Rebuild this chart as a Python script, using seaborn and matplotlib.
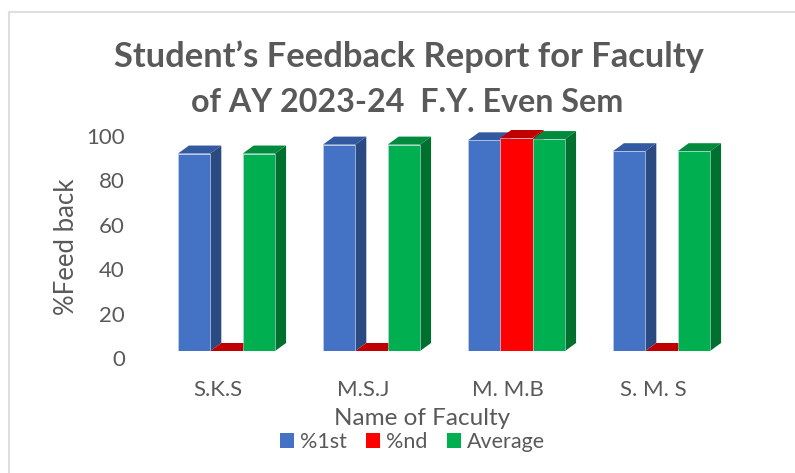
import matplotlib
matplotlib.use('Agg')
import matplotlib.pyplot as plt
from matplotlib.patches import Polygon, Rectangle
from matplotlib.lines import Line2D
import pandas as pd
import seaborn as sns

faculty = ['S.K.S', 'M.S.J', 'M. M.B', 'S. M. S']
first = [92.7, 96.9, 98.9, 93.8]
second = [0, 0, 100, 0]
average = [92.7, 96.9, 99.5, 93.8]

series_names = ['%1st', '%nd', 'Average']
front_colors = ['#4472C4', '#FF0000', '#00B050']
top_colors = ['#335AA0', '#C00000', '#008A3E']
side_colors = ['#2B4A82', '#A00000', '#00702F']
text_color = '#595959'

W, H = 795, 473

sns.set_theme(style='white')
plt.rcParams['font.family'] = ['Lato', 'DejaVu Sans']

df = pd.DataFrame({
    'Faculty': faculty * 3,
    'Series': [s for s in series_names for _ in faculty],
    'Value': first + second + average,
})

fig = plt.figure(figsize=(W / 100, H / 100), dpi=100)

def px_axes(left, right, top, bottom):
    return fig.add_axes([left / W, 1 - bottom / H, (right - left) / W, (bottom - top) / H])

ax = px_axes(154, 734, 138, 351)
sns.barplot(data=df, x='Faculty', y='Value', hue='Series', hue_order=series_names,
            palette=front_colors, width=0.67, saturation=1, legend=False, ax=ax, zorder=3)
ax.set_xlim(-0.5, 3.5)
ax.set_ylim(0, 100)
ax.set_xticks([])
ax.set_yticks([])
ax.set_xlabel('')
ax.set_ylabel('')
ax.patch.set_alpha(0)
sns.despine(ax=ax, left=True, bottom=True, top=True, right=True)

# fake 3d extrusion, same depth for every bar
dx = 11 / 145
dy = 8 / 2.13
for i, name in enumerate(series_names):
    for bar in ax.containers[i]:
        x0, w, h = bar.get_x(), bar.get_width(), bar.get_height()
        x1 = x0 + w
        z = 3 + i
        bar.set_zorder(z + 0.5)
        bar.set_edgecolor('#C9D6EC')
        bar.set_linewidth(0.4)
        ax.add_patch(Polygon([(x0, h), (x1, h), (x1 + dx, h + dy), (x0 + dx, h + dy)],
                             closed=True, fc=top_colors[i], ec='none', zorder=z, clip_on=False))
        if h > 0:
            ax.add_patch(Polygon([(x1, 0), (x1 + dx, dy), (x1 + dx, h + dy), (x1, h)],
                                 closed=True, fc=side_colors[i], ec='none', zorder=z, clip_on=False))

# axis labels in a 3d chart sit on the wall scale, not the front scale
wall = px_axes(154, 734, 136, 358)
wall.set_ylim(0, 100)
wall.set_xlim(-0.5 + 8.5 / 145, 3.5 + 8.5 / 145)
wall.set_xticks(range(len(faculty)))
wall.set_xticklabels(faculty)
wall.set_yticks([0, 20, 40, 60, 80, 100])
wall.tick_params(axis='y', length=0, pad=21, labelsize=16, labelcolor=text_color)
wall.tick_params(axis='x', length=0, pad=16, labelsize=16, labelcolor=text_color)
wall.patch.set_alpha(0)
sns.despine(ax=wall, left=True, bottom=True, top=True, right=True)
wall.set_ylabel('%Feed back', fontsize=18.5, color=text_color, labelpad=5)
wall.set_xlabel('Name of Faculty', fontsize=17.5, color=text_color, va='center')
wall.xaxis.set_label_coords((422 - 154) / 580, -(418 - 358) / 222)

fig.text(409 / W, 1 - 57 / H, 'Student\u2019s Feedback Report for Faculty', ha='center', va='center',
         fontsize=24.8, fontweight='bold', color=text_color)
fig.text(407 / W, 1 - 102 / H, 'of AY 2023-24  F.Y. Even Sem', ha='center', va='center',
         fontsize=23.2, fontweight='bold', color=text_color)

handles = [Rectangle((0, 0), 1, 1, fc=c, ec='none') for c in front_colors]
fig.legend(handles, series_names, loc='center', bbox_to_anchor=(412.5 / W, 1 - 442 / H), ncol=3,
           frameon=False, fontsize=15.5, labelcolor=text_color, handlelength=0.65, handleheight=0.65,
           handletextpad=0.28, columnspacing=0.9, borderpad=0)

fig.add_artist(Line2D([9 / W, 9 / W], [0, 1 - 12 / H], color='#DEDEDE', lw=1.5))
fig.add_artist(Line2D([9 / W, 1], [1 - 12 / H, 1 - 12 / H], color='#DEDEDE', lw=1.5))

fig.savefig('out.png', dpi=100)
